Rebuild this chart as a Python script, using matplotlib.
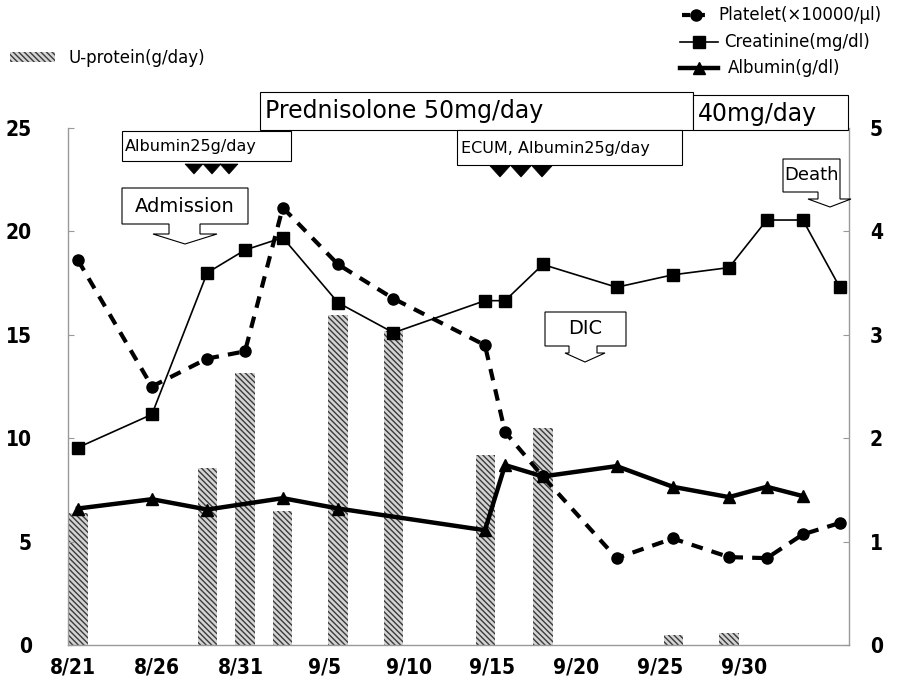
import numpy as np
import matplotlib
matplotlib.use('Agg')
import matplotlib.pyplot as plt
from matplotlib.patches import Polygon, Rectangle
from matplotlib.lines import Line2D

# figure size in pixels (dpi 100)
W, H = 914, 690

# x positions are days after 8/21
tick_days = [0, 5, 10, 15, 20, 25, 30, 35, 40]
tick_labels = ['8/21', '8/26', '8/31', '9/5', '9/10', '9/15', '9/20', '9/25', '9/30']

# U-protein (g/day), left axis
prot_days = [0.3, 8.0, 10.25, 12.5, 15.8, 19.1, 24.6, 28.0, 35.8, 39.1]
prot_vals = [6.4, 8.55, 13.15, 6.5, 15.95, 15.2, 9.2, 10.5, 0.5, 0.6]

# Platelet (x10000/ul), right axis
plt_days = [0.3, 4.7, 8.0, 10.25, 12.5, 15.8, 19.1, 24.55, 25.75, 28.0,
            32.4, 35.75, 39.1, 41.35, 43.5, 45.7]
plt_vals = [3.72, 2.50, 2.77, 2.84, 4.23, 3.68, 3.35, 2.90, 2.06, 1.63,
            0.84, 1.03, 0.85, 0.84, 1.07, 1.18]

# Creatinine (mg/dl), right axis
cre_days = plt_days
cre_vals = [1.91, 2.23, 3.60, 3.82, 3.94, 3.31, 3.02, 3.33, 3.33, 3.68,
            3.46, 3.58, 3.65, 4.11, 4.11, 3.46]

# Albumin (g/dl), right axis
alb_days = [0.3, 4.7, 8.0, 12.5, 15.8, 24.55, 25.75, 28.0, 32.4, 35.75,
            39.1, 41.35, 43.5]
alb_vals = [1.32, 1.41, 1.31, 1.42, 1.32, 1.11, 1.74, 1.63, 1.73, 1.53,
            1.43, 1.53, 1.44]

FONT = ['DejaVu Sans']
plt.rcParams['font.family'] = FONT
plt.rcParams['hatch.linewidth'] = 1.0

BAR_FACE = '#d4d4d4'
BAR_HATCH = '#3a3a3a'


def fxy(px, py):
    # pixel position -> figure fraction
    return px / W, 1 - py / H


def callout(fig, L, T, R, B, sl, sr, sb, hl, hr, tip, text, size):
    # box with a down arrow under it (excel style)
    pts = [(L, T), (R, T), (R, B), (sr, B), (sr, sb), (hr, sb), tip,
           (hl, sb), (sl, sb), (sl, B), (L, B)]
    fig.add_artist(Polygon([fxy(*p) for p in pts], closed=True,
                           transform=fig.transFigure, fc='white', ec='k',
                           lw=0.8, zorder=5))
    fig.text(*fxy((L + R) / 2, (T + B) / 2), text, fontsize=size,
             ha='center', va='center', zorder=6)


def box(fig, L, T, R, B, text, size, tx, ty):
    fig.add_artist(Rectangle(fxy(L, B), (R - L) / W, (B - T) / H,
                             transform=fig.transFigure, fc='white', ec='k',
                             lw=0.8, zorder=5))
    fig.text(*fxy(tx, ty), text, fontsize=size, ha='left', va='center',
             zorder=6)


def triangles(fig, centers, top, tip, half):
    for c in centers:
        pts = [(c - half, top), (c + half, top), (c, tip)]
        fig.add_artist(Polygon([fxy(*p) for p in pts], closed=True,
                               transform=fig.transFigure, fc='k', ec='k',
                               lw=0.5, zorder=5))


fig = plt.figure(figsize=(W / 100, H / 100), dpi=100)
ax = fig.add_axes([68 / W, 1 - 645 / H, (849 - 68) / W, (645 - 128) / H])
ax2 = ax.twinx()

ax.bar(prot_days, prot_vals, width=1.16, color=BAR_FACE,
       edgecolor=BAR_HATCH, hatch='\\' * 6, linewidth=0)

ax2.plot(cre_days, cre_vals, color='k', lw=1.2, marker='s', ms=8,
         clip_on=False, zorder=3)
ax2.plot(alb_days, alb_vals, color='k', lw=3.2, marker='^', ms=9,
         clip_on=False, zorder=3)
ax2.plot(plt_days, plt_vals, color='k', lw=3, dashes=(2.8, 2.2),
         marker='o', ms=8, clip_on=False, zorder=4)

ax.set_xlim(-0.3, 46.25)
ax.set_ylim(0, 25)
ax2.set_ylim(0, 5)
ax.set_yticks([0, 5, 10, 15, 20, 25])
ax2.set_yticks([0, 1, 2, 3, 4, 5])
ax.set_xticks(tick_days)
ax.set_xticklabels(tick_labels)

for a in (ax, ax2):
    a.spines['top'].set_visible(False)
    for s in a.spines.values():
        s.set_color('#999999')
        s.set_linewidth(1.0)
ax.spines['right'].set_visible(False)
ax2.spines['left'].set_visible(False)
ax2.spines['bottom'].set_visible(False)

tick_font = dict(family=FONT, weight='bold', size=15, stretch='condensed')
ax.tick_params(axis='y', direction='in', length=4, color='#999999', pad=26)
ax2.tick_params(axis='y', direction='in', length=4, color='#999999', pad=15)
ax.tick_params(axis='x', length=0, pad=9)
for lab in ax.get_yticklabels() + ax2.get_yticklabels() + ax.get_xticklabels():
    lab.set_fontproperties(matplotlib.font_manager.FontProperties(**tick_font))

# U-protein legend (top left)
fig.add_artist(Rectangle(fxy(10, 62), 45 / W, 10 / H, transform=fig.transFigure,
                         fc=BAR_FACE, ec=BAR_HATCH, hatch='\\' * 6, lw=0))
fig.text(*fxy(68, 58), 'U-protein(g/day)', fontsize=12, va='center')

# line legends (top right)
fig.add_artist(Line2D([fxy(682, 0)[0], fxy(711, 0)[0]], [fxy(0, 15)[1]] * 2,
                      transform=fig.transFigure, color='k', lw=3,
                      dashes=(2, 1.5), marker=None))
fig.add_artist(Line2D([fxy(696, 0)[0]], [fxy(0, 15)[1]], transform=fig.transFigure,
                      color='k', marker='o', ms=8))
fig.text(*fxy(718, 15), 'Platelet(×10000/μl)', fontsize=12, va='center')
fig.add_artist(Line2D([fxy(680, 0)[0], fxy(718, 0)[0]], [fxy(0, 42)[1]] * 2,
                      transform=fig.transFigure, color='k', lw=1.2))
fig.add_artist(Line2D([fxy(699, 0)[0]], [fxy(0, 42)[1]], transform=fig.transFigure,
                      color='k', marker='s', ms=8))
fig.text(*fxy(724, 42), 'Creatinine(mg/dl)', fontsize=12, va='center')
fig.add_artist(Line2D([fxy(680, 0)[0], fxy(718, 0)[0]], [fxy(0, 68)[1]] * 2,
                      transform=fig.transFigure, color='k', lw=3.2))
fig.add_artist(Line2D([fxy(699, 0)[0]], [fxy(0, 68)[1]], transform=fig.transFigure,
                      color='k', marker='^', ms=9))
fig.text(*fxy(728, 68), 'Albumin(g/dl)', fontsize=12, va='center')

# treatment boxes
box(fig, 260, 92, 693, 130, 'Prednisolone 50mg/day', 17, 265, 111)
box(fig, 693, 95, 848, 130, '40mg/day', 17, 698, 114)
box(fig, 122, 131, 291, 161, 'Albumin25g/day', 11.5, 125, 147)
box(fig, 457, 130, 682, 165, 'ECUM, Albumin25g/day', 11.5, 461, 149)
triangles(fig, [194, 212, 229], 164, 174, 9)
triangles(fig, [500, 521, 542], 166, 177, 10)

# event callouts
callout(fig, 122, 188, 248, 224, 169, 200, 234, 153, 217, (185, 244),
        'Admission', 14)
callout(fig, 545, 312, 626, 346, 569, 597, 353, 565, 605, (585, 362),
        'DIC', 14)
callout(fig, 783, 159, 840, 192, 818, 840, 199, 808, 851, (830, 207),
        'Death', 13)

fig.savefig('out.png', dpi=100)
